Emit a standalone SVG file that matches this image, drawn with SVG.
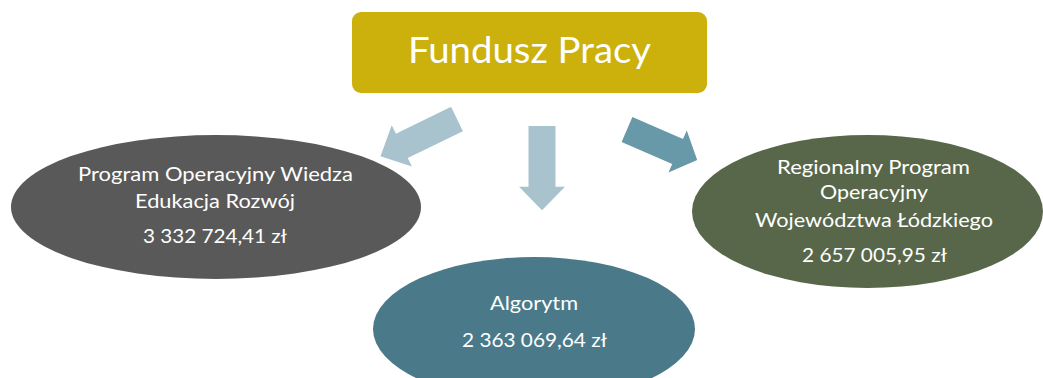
<svg xmlns="http://www.w3.org/2000/svg" width="1043" height="378" viewBox="0 0 1043 378">
<style>
.t{font-family:Lato,"Open Sans","Liberation Sans",sans-serif;fill:#ffffff;text-anchor:middle}
.s{font-size:19.5px}
.big{font-size:37px}
.al{fill:#a9c3ce}
.ar{fill:#6899a8}
</style>
<defs>
<polygon id="arw" points="0,-13.5 62,-13.5 62,-23 86,0 62,23 62,13.5 0,13.5"/>
</defs>
<rect width="1043" height="378" fill="#ffffff"/>
<g id="connectors">
<use href="#arw" class="al" transform="translate(457,119) rotate(154) scale(0.99,1)"/>
<use href="#arw" class="al" transform="translate(542,126) rotate(90) scale(0.98,1)"/>
<use href="#arw" class="ar" transform="translate(627,129.5) rotate(23.5) scale(0.89,1)"/>
</g>
<g id="top">
<rect x="352" y="12" width="355" height="81" rx="9" fill="#ccb00c"/>
<text class="t big" x="529.5" y="63" textLength="243" lengthAdjust="spacingAndGlyphs">Fundusz Pracy</text>
</g>
<g id="powr">
<ellipse cx="216" cy="207" rx="205" ry="72" fill="#595959"/>
<text class="t s" x="215.5" y="181" textLength="275" lengthAdjust="spacingAndGlyphs">Program Operacyjny Wiedza</text>
<text class="t s" x="215" y="208" textLength="160" lengthAdjust="spacingAndGlyphs">Edukacja Rozwój</text>
<text class="t s" x="215" y="243" textLength="144" lengthAdjust="spacingAndGlyphs">3 332 724,41 zł</text>
</g>
<g id="rpo">
<ellipse cx="867.5" cy="211.5" rx="175.5" ry="76.5" fill="#58674a"/>
<text class="t s" x="873.5" y="174" textLength="193" lengthAdjust="spacingAndGlyphs">Regionalny Program</text>
<text class="t s" x="874" y="199" textLength="108" lengthAdjust="spacingAndGlyphs">Operacyjny</text>
<text class="t s" x="874" y="227" textLength="238" lengthAdjust="spacingAndGlyphs">Województwa Łódzkiego</text>
<text class="t s" x="874.5" y="262" textLength="145" lengthAdjust="spacingAndGlyphs">2 657 005,95 zł</text>
</g>
<g id="algorytm">
<ellipse cx="534" cy="329" rx="161" ry="72" fill="#4a7a8a"/>
<text class="t s" x="534" y="310" textLength="88" lengthAdjust="spacingAndGlyphs">Algorytm</text>
<text class="t s" x="534.5" y="347" textLength="145" lengthAdjust="spacingAndGlyphs">2 363 069,64 zł</text>
</g>
</svg>
